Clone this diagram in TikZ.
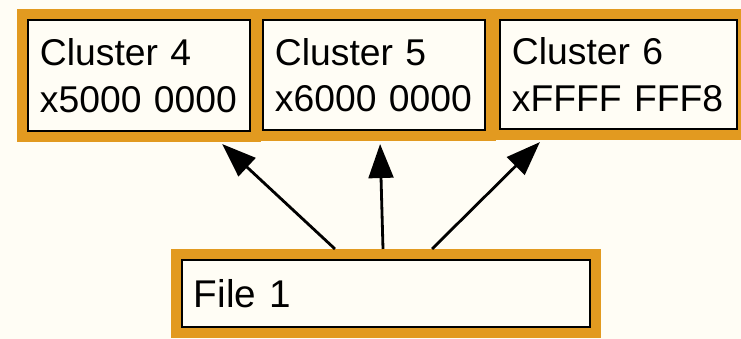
\documentclass[tikz,border=0pt]{standalone}
\usepackage{fontspec}
\setmainfont{Liberation Sans}
\usetikzlibrary{arrows.meta, positioning}
\definecolor{bgcream}{RGB}{255,253,245}
\definecolor{frameorange}{RGB}{226,154,32}

\begin{document}
\begin{tikzpicture}[
  x=0.025cm, y=-0.025cm,
  block/.style={rectangle, draw=black, line width=2pt, fill=bgcream, align=left, inner xsep=0.3cm, outer sep=0.275cm, font=\fontsize{26.5}{33}\selectfont, preaction={draw=frameorange, line width=0.55cm}},
  arrow/.style={-{Triangle[length=0.85cm,width=0.62cm]}, line width=2pt, shorten >=0.075cm},
]
  \fill[bgcream] (0,0) rectangle (741,339);
  \useasboundingbox (0,0) rectangle (741,339);

  \node[block, text width=4.95cm, minimum height=2.775cm] (c4) at (139,75.5) {Cluster 4\\x5000 0000};
  \node[block, text width=4.95cm, minimum height=2.75cm] (c5) at (374,75) {Cluster 5\\x6000 0000};
  \node[block, text width=5.325cm, minimum height=2.725cm] (c6) at (618.5,74.5) {Cluster 6\\xFFFF FFF8};
  \node[block, text width=9.6cm, minimum height=1.675cm, font=\fontsize{27.5}{33}\selectfont] (file1) at (386,293.5) {File 1};

  \draw[arrow] ([xshift=-1.275cm]file1.north) -- ([xshift=2.025cm]c4.south);
  \draw[arrow] ([xshift=-0.075cm]file1.north) -- ([xshift=0.15cm]c5.south);
  \draw[arrow] ([xshift=1.15cm]file1.north) -- ([xshift=-1.9125cm]c6.south);
\end{tikzpicture}
\end{document}
